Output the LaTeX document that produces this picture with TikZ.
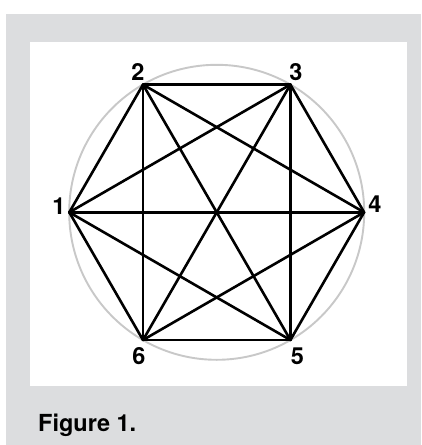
\documentclass[tikz,border=0pt]{standalone}
\usepackage{fontspec}
\setmainfont{TeX Gyre Heros}
\definecolor{panelgray}{HTML}{DCDDDF}
\definecolor{ringgray}{HTML}{C8C8C8}
\begin{document}
\begin{tikzpicture}[x=1pt,y=-1pt,
  edge/.style={draw=black,line width=2.6pt,line cap=round,line join=round},
  ring/.style={draw=ringgray,line width=1.9pt},
  lbl/.style={font=\fontsize{23.5}{28}\selectfont\bfseries,inner sep=0pt,anchor=center},
  caption/.style={font=\fontsize{23.5}{28}\selectfont\bfseries,inner sep=0pt,anchor=base west}]
\useasboundingbox (0,0) rectangle (421,445);
\fill[white] (0,0) rectangle (421,445);
\fill[panelgray] (6,14) rectangle (421,445);
\fill[white] (30,42) rectangle (407,386);
\coordinate (c) at (216.7,212.3);
\draw[ring] (c) circle[radius=147.5pt];
\coordinate (v1) at (69.3,212.3);
\coordinate (v2) at (143.0,84.6);
\coordinate (v3) at (290.4,84.6);
\coordinate (v4) at (364.1,212.3);
\coordinate (v5) at (290.4,340.0);
\coordinate (v6) at (143.0,340.0);
\foreach \a/\b in {1/2,1/3,1/4,1/5,1/6,2/3,2/4,2/5,2/6,3/4,3/5,3/6,4/5,4/6,5/6}
  \draw[edge] (v\a) -- (v\b);
\node[lbl] (l1) at (59,206) {1};
\node[lbl] (l2) at (138,72) {2};
\node[lbl] (l3) at (296,72) {3};
\node[lbl] (l4) at (375,204) {4};
\node[lbl] (l5) at (297.5,356.5) {5};
\node[lbl] (l6) at (139,356.5) {6};
\node[caption] (cap) at (38,431) {Figure 1.};
\end{tikzpicture}
\end{document}
